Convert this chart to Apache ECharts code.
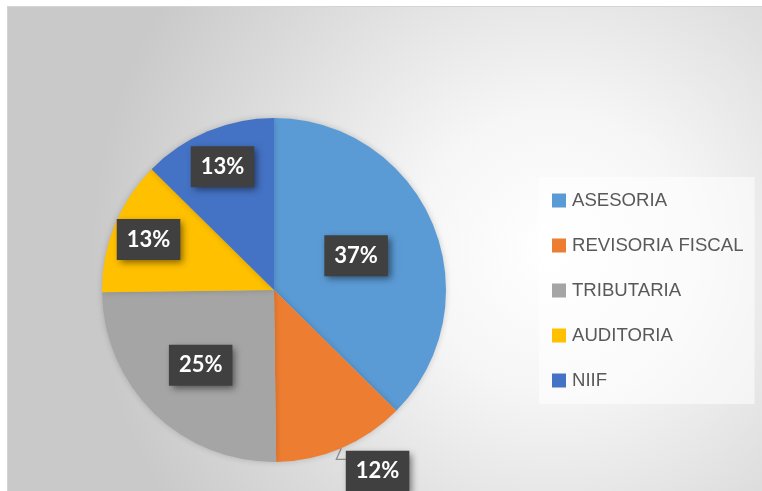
<!DOCTYPE html>
<html>
<head>
<meta charset="utf-8">
<script src="https://cdn.jsdelivr.net/npm/echarts@6/dist/echarts.min.js"></script>
<style>
  html, body { margin: 0; padding: 0; background: #ffffff; }
  #grafica {
    position: absolute; left: 7px; top: 6px;
    width: 755px; height: 485px;
    border-top: 1px solid #d4d4d4; border-left: 1px solid #d4d4d4;
  }
</style>
</head>
<body>
<div id="grafica"></div>
<script>
  // Datos del gráfico
  const categorias = ['ASESORIA', 'REVISORIA FISCAL', 'TRIBUTARIA', 'AUDITORIA', 'NIIF'];
  const valores = [37.4, 12.4, 25.0, 12.6, 12.6];
  const colores = ['#5B9BD5', '#ED7D31', '#A5A5A5', '#FFC000', '#4472C4'];

  // Distancia relativa de cada etiqueta al centro (0.5 = mitad del radio)
  const radioEtiqueta = [0.5, null, 0.59, 0.76, 0.75];

  const cx = 266, cy = 283, radio = 172;
  const total = valores.reduce((a, b) => a + b, 0);

  const chart = echarts.init(document.getElementById('grafica'));

  chart.setOption({
    backgroundColor: {
      type: 'radial', x: 0.72, y: 0.5, r: 0.95,
      colorStops: [
        { offset: 0, color: '#ffffff' },
        { offset: 0.3, color: '#f6f6f6' },
        { offset: 1, color: '#c9c9c9' }
      ]
    },
    legend: {
      orient: 'vertical',
      left: 531, top: 170,
      padding: [14, 11, 14, 13],
      backgroundColor: 'rgba(255,255,255,0.55)',
      itemWidth: 14, itemHeight: 14,
      itemGap: 26,
      icon: 'rect',
      textStyle: { fontFamily: 'Liberation Sans', fontSize: 18.6, color: '#595959', padding: [0, 0, 0, 1] },
      data: categorias
    },
    series: [
      {
        type: 'pie',
        center: [cx, cy],
        radius: radio,
        startAngle: 90,
        clockwise: true,
        avoidLabelOverlap: false,
        emphasis: { disabled: true },
        itemStyle: { shadowBlur: 6, shadowColor: 'rgba(0,0,0,0.18)' },
        label: {
          show: true,
          position: 'inside',
          formatter: p => Math.round(p.percent) + '%',
          fontFamily: 'Lato',
          fontWeight: 'bold',
          fontSize: 22,
          lineHeight: 21,
          color: '#ffffff',
          backgroundColor: '#404040',
          padding: [10, 10, 10, 10],
          shadowColor: 'rgba(0,0,0,0.5)',
          shadowBlur: 7,
          shadowOffsetX: 3,
          shadowOffsetY: 3
        },
        labelLine: {
          show: true, length: 14, length2: 3,
          lineStyle: { color: '#8c8c8c', width: 1.3 }
        },
        labelLayout: function (params) {
          const r = params.labelRect;
          if (params.dataIndex === 1) {
            // etiqueta exterior con línea guía hacia el borde del sector
            const dx = -8, dy = 10;
            const inicio = valores[0] / total;
            const ang = (inicio + valores[1] / total / 2) * 2 * Math.PI;
            const px = cx + radio * Math.sin(ang), py = cy - radio * Math.cos(ang);
            const yl = py + 11;
            return {
              dx: dx, dy: dy,
              labelLinePoints: [[px, py], [px - 5, yl], [r.x + dx, yl]]
            };
          }
          const f = radioEtiqueta[params.dataIndex];
          const lx = r.x + r.width / 2, ly = r.y + r.height / 2;
          const k = f / 0.5 - 1;
          return { dx: (lx - cx) * k, dy: (ly - cy) * k };
        },
        data: categorias.map((nombre, i) => ({
          name: nombre,
          value: valores[i],
          itemStyle: { color: colores[i] },
          label: i === 1 ? { position: 'outside', distanceToLabelLine: 4 } : {},
          labelLine: { show: i === 1 }
        }))
      }
    ]
  });
</script>
</body>
</html>
